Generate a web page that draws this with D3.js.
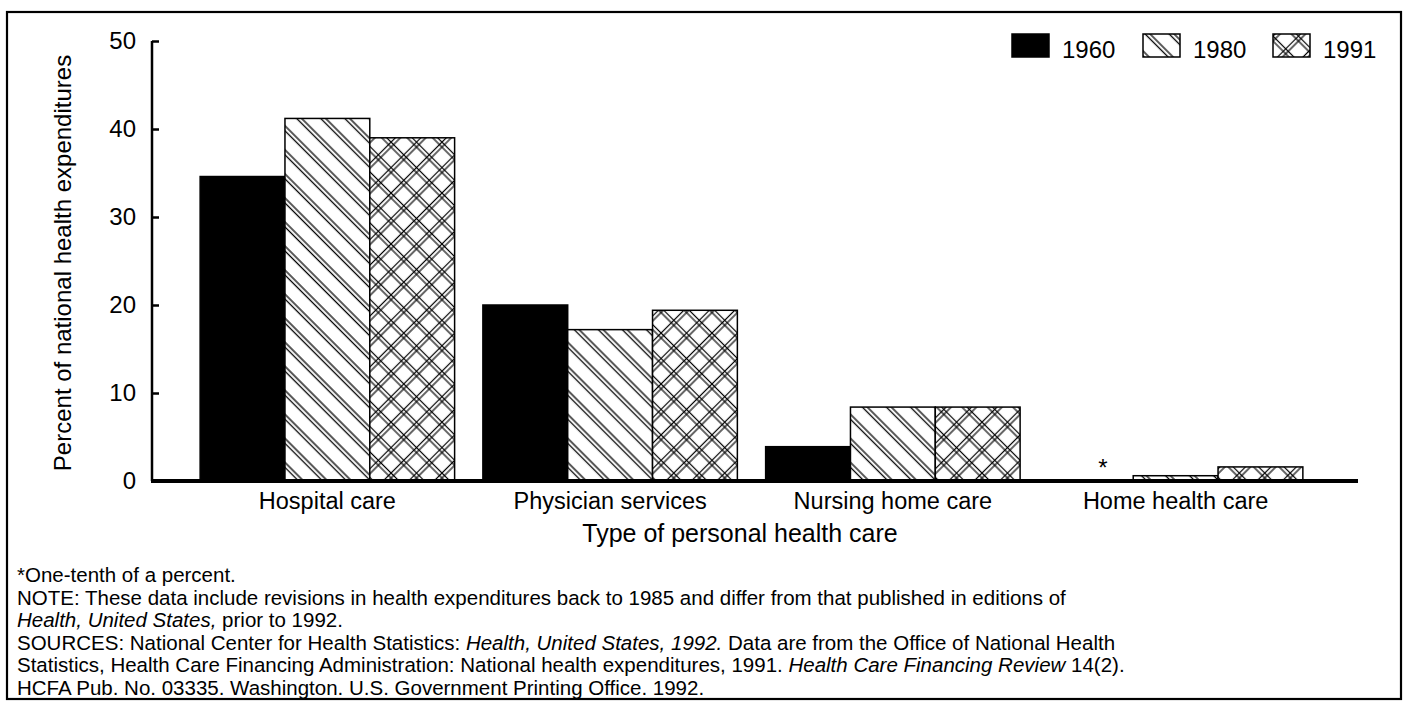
<!DOCTYPE html>
<html>
<head>
<meta charset="utf-8">
<script src="https://cdn.jsdelivr.net/npm/d3@7"></script>
<style>
  body { margin: 0; background: #fff; }
  svg { display: block; font-family: "Liberation Sans", Arial, Helvetica, sans-serif; }
</style>
</head>
<body>
<svg id="chart" width="1409" height="705"></svg>
<script>
// data
var categories = ["Hospital care", "Physician services", "Nursing home care", "Home health care"];
var years = ["1960", "1980", "1991"];
var v1960 = [34.6, 20.0, 3.9, 0.1];
var v1980 = [41.2, 17.2, 8.4, 0.6];
var v1991 = [39.0, 19.4, 8.4, 1.6];
var yTicks = [0, 10, 20, 30, 40, 50];
var footnotes = [
  [["*One-tenth of a percent.", false]],
  [["NOTE: These data include revisions in health expenditures back to 1985 and differ from that published in editions of", false]],
  [["Health, United States,", true], [" prior to 1992.", false]],
  [["SOURCES: National Center for Health Statistics: ", false], ["Health, United States, 1992.", true], [" Data are from the Office of National Health", false]],
  [["Statistics, Health Care Financing Administration: National health expenditures, 1991. ", false], ["Health Care Financing Review", true], [" 14(2).", false]],
  [["HCFA Pub. No. 03335. Washington. U.S. Government Printing Office. 1992.", false]]
];

var series = [v1960, v1980, v1991];
var rows = categories.map(function(c, i) {
  return { cat: c, vals: years.map(function(y, j) { return { year: y, value: series[j][i] }; }) };
});

var svg = d3.select("#chart");

// patterns (pairs of thin diagonal lines)
var defs = svg.append("defs");
var p1 = defs.append("pattern")
  .attr("id", "pat1980")
  .attr("patternUnits", "userSpaceOnUse")
  .attr("width", 17).attr("height", 17)
  .attr("patternTransform", "rotate(-45)");
p1.append("rect").attr("width", 17).attr("height", 17).attr("fill", "#fff");
[1.5, 5].forEach(function(x) {
  p1.append("line").attr("x1", x).attr("x2", x).attr("y1", 0).attr("y2", 17)
    .attr("stroke", "#000").attr("stroke-width", 1.3);
});

var p2 = defs.append("pattern")
  .attr("id", "pat1991")
  .attr("patternUnits", "userSpaceOnUse")
  .attr("width", 18).attr("height", 18)
  .attr("patternTransform", "rotate(45)");
p2.append("rect").attr("width", 18).attr("height", 18).attr("fill", "#fff");
[1.5, 5].forEach(function(x) {
  p2.append("line").attr("x1", x).attr("x2", x).attr("y1", 0).attr("y2", 18)
    .attr("stroke", "#000").attr("stroke-width", 1.2);
  p2.append("line").attr("y1", x).attr("y2", x).attr("x1", 0).attr("x2", 18)
    .attr("stroke", "#000").attr("stroke-width", 1.2);
});

var fills = { "1960": "#000", "1980": "url(#pat1980)", "1991": "url(#pat1991)" };

// frame
svg.append("rect")
  .attr("x", 7).attr("y", 12).attr("width", 1394).attr("height", 687)
  .attr("fill", "none").attr("stroke", "#000").attr("stroke-width", 2.2);

// scales
var x0 = d3.scaleBand().domain(categories).range([186, 1317]).paddingInner(0.1).paddingOuter(0.05);
var x1 = d3.scaleBand().domain(years).range([0, x0.bandwidth()]);
var y = d3.scaleLinear().domain([0, 50]).range([481, 41]);

// bars
var groups = svg.append("g").selectAll("g")
  .data(rows)
  .enter().append("g")
  .attr("transform", function(d) { return "translate(" + x0(d.cat) + ",0)"; });

groups.selectAll("rect")
  .data(function(d) { return d.vals; })
  .enter().append("rect")
  .attr("x", function(d) { return x1(d.year); })
  .attr("y", function(d) { return y(d.value); })
  .attr("width", x1.bandwidth())
  .attr("height", function(d) { return y(0) - y(d.value); })
  .attr("fill", function(d) { return fills[d.year]; })
  .attr("stroke", "#000")
  .attr("stroke-width", 1.5);

// asterisk over the tiny 1960 home health bar
svg.append("text")
  .attr("x", x0("Home health care") + x1("1960") + x1.bandwidth() / 2 + 12)
  .attr("y", y(0) - 5)
  .attr("text-anchor", "middle")
  .attr("font-size", 24)
  .text("*");

// y axis
var yAxis = svg.append("g")
  .attr("transform", "translate(152,0)")
  .call(d3.axisLeft(y).tickValues(yTicks).tickSize(-7).tickPadding(16));
yAxis.select(".domain").attr("stroke-width", 2.5).attr("d", "M0," + y(50) + "V" + y(0));
yAxis.selectAll(".tick line").attr("stroke-width", 2.5);
yAxis.selectAll(".tick text").attr("font-size", 24).attr("fill", "#000");

// baseline
svg.append("line")
  .attr("x1", 151).attr("x2", 1358)
  .attr("y1", y(0)).attr("y2", y(0))
  .attr("stroke", "#000").attr("stroke-width", 4);

// category labels
var xAxis = svg.append("g")
  .attr("transform", "translate(0," + y(0) + ")")
  .call(d3.axisBottom(x0).tickSize(0).tickPadding(11));
xAxis.select(".domain").remove();
xAxis.selectAll(".tick text").attr("font-size", 23.5).attr("fill", "#000");

// axis titles
svg.append("text")
  .attr("transform", "translate(63,263) rotate(-90)")
  .attr("text-anchor", "middle")
  .attr("dy", "0.35em")
  .attr("font-size", 24)
  .text("Percent of national health expenditures");

svg.append("text")
  .attr("x", 740).attr("y", 542)
  .attr("text-anchor", "middle")
  .attr("font-size", 25)
  .text("Type of personal health care");

// legend
var legend = svg.append("g").selectAll("g")
  .data(years)
  .enter().append("g")
  .attr("transform", function(d, i) { return "translate(" + [1012, 1143, 1273][i] + ",34)"; });
legend.append("rect")
  .attr("width", 37).attr("height", 23)
  .attr("fill", function(d) { return fills[d]; })
  .attr("stroke", "#000").attr("stroke-width", 1.5);
legend.append("text")
  .attr("x", 50).attr("y", 24)
  .attr("font-size", 24)
  .text(function(d) { return d; });

// footnotes
var notes = svg.append("g").attr("font-size", 20.5);
footnotes.forEach(function(line, i) {
  var t = notes.append("text").attr("x", 17).attr("y", 582 + i * 22.6);
  line.forEach(function(seg) {
    t.append("tspan")
      .attr("font-style", seg[1] ? "italic" : "normal")
      .text(seg[0]);
  });
});
</script>
</body>
</html>
